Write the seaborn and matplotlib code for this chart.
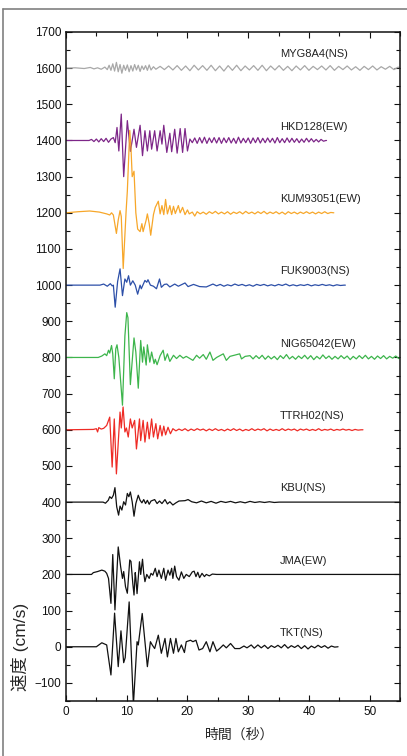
import numpy as np
import matplotlib
matplotlib.use("Agg")
import matplotlib.pyplot as plt
from matplotlib.lines import Line2D
from matplotlib.ticker import MultipleLocator
import seaborn as sns

# station names, baseline offsets (cm/s) and colours, top to bottom
names = ["MYG8A4(NS)", "HKD128(EW)", "KUM93051(EW)", "FUK9003(NS)", "NIG65042(EW)",
         "TTRH02(NS)", "KBU(NS)", "JMA(EW)", "TKT(NS)"]
offsets = [1600, 1400, 1200, 1000, 800, 600, 400, 200, 0]
colors = ["#a8a8a8", "#7d2688", "#f7a72a", "#2c4fa8", "#3db54c", "#ee2b25",
          "#111111", "#111111", "#111111"]

# velocity traces: main part as (time, value),
# coda as values at a fixed step after the last main point, then the trace end time
myg_t = [0, 1.5, 3, 4, 4.6, 5.2, 5.8, 6.4, 6.8, 7.1, 7.4, 7.7, 8.0, 8.3, 8.6, 8.9, 9.2, 9.5,
         9.8, 10.1, 10.4, 10.7, 11.0, 11.3, 11.6, 11.9, 12.2, 12.5, 12.8, 13.1, 13.4, 13.7,
         14.0, 14.4, 14.8]
myg_v = [0, 1, -1, 2, -2, 1, -3, 3, -4, 8, -6, 12, -8, 16, -10, 10, -14, 8, -6, 9, -10, 7,
         -8, 10, -5, 8, -9, 6, -4, 7, -6, 9, -5, 4, -3]
myg_tail = [5, -4, 6, -5, 7, -6, 6, -7, 8, -5, 7, -6, 8, -7, 6, -8, 7, -6, 8, -7, 6, -5, 7,
            -6, 8, -7, 6, -5, 7, -6, 5, -7, 6, -5, 7, -6, 5, -4, 6, -5, 7, -6, 5, -4, 6, -5,
            4, -6, 5, -4, 6, -5, 4, -3, 5, -4, 3]
myg_dt, myg_end = 0.7, 55

hkd_t = [0, 3.8, 4.2, 4.6, 5.0, 5.4, 5.8, 6.2, 6.6, 7.0, 7.4, 7.8, 8.1, 8.4, 8.7, 9.1, 9.5,
         10.1, 10.6, 10.9, 11.2, 11.6, 12.2, 12.6, 13.0, 13.4, 13.8, 14.1, 14.6, 15.0, 15.5,
         15.8, 16.1, 16.6, 17.1, 17.4, 17.9, 18.3, 18.8, 19.2, 19.6, 20.0, 20.4]
hkd_v = [0, 0, 3, -3, 4, -4, 5, -3, 6, -5, 4, 8, -6, 36, -29, 73, -100, 55, -30, 0, 31, -19,
         42, -42, 27, -29, 27, -24, 27, -29, 27, -10, 42, -33, 20, -31, 31, -35, 33, -33, 33,
         -29, 4]
hkd_tail = [-6, 7, -8, 8, -7, 9, -8, 7, -6, 8, -7, 8, -8, 7, -6, 8, -7, 6, -8, 9, -7, 6, -6,
            7, -8, 7, -6, 8, -7, 6, -6, 7, -5, 6, -7, 8, -6, 5, -6, 7, -5, 6, -5, 5, -6, 4,
            -5, 6, -4, 5, -4, 3, -4, 3, -2, 0]
hkd_dt, hkd_end = 0.4, 42.9

kum_t = [0, 2, 3.9, 5.5, 6.7, 7.2, 7.5, 7.8, 8.3, 8.6, 8.9, 9.1, 9.42, 9.9, 10.1, 10.5, 10.7,
         10.9, 11.2, 11.5, 11.8, 12.2, 12.5, 12.7, 13.2, 13.4, 13.7, 13.95, 14.4, 14.7, 15.2,
         15.5, 15.8, 16.1, 16.4, 16.7, 17.1, 17.4, 17.7, 18.0, 18.5, 18.8, 19.2, 19.6, 20.0,
         20.3, 20.8, 21.2, 21.6]
kum_v = [0, 3, 5, 2, -3, -6, 0, -6, -57, -20, 6, -10, -154, 5, 60, 228, 180, 100, 115, 0,
         -45, -52, -30, -52, -20, -3, -30, -62, -5, 15, 32, -3, 20, -5, 37, -3, 20, -5, 18,
         -2, 20, 0, 15, -5, 8, -3, 2, -9, 3]
kum_tail = [-3, 2, -4, 3, -2, 4, -3, 2, -3, 3, -4, 2, -2, 3, -3, 4, -2, 2, -3, 3, -2, 4, -3,
            2, -2, 3, -3, 2, -4, 3, -2, 2, -3, 2, -2, 3, -2, 2, -3, 2, -2, 3, -2, 1, 0]
kum_dt, kum_end = 0.5, 44.0

fuk_t = [0, 5.6, 6.2, 6.8, 7.3, 7.6, 7.8, 8.1, 8.5, 8.9, 9.3, 9.7, 10.0, 10.3, 10.6, 11.0,
         11.4, 11.8, 12.2, 12.4, 13.0, 13.3, 13.5, 13.9, 14.4, 14.9, 15.4, 15.7, 16.2, 16.6,
         17.1, 17.9, 18.5, 19.6, 20.1, 21.0, 22.0, 23.1, 24.2]
fuk_v = [0, 0, 3, -3, 4, -2, 0, -61, 10, 45, -29, 17, 8, 26, 0, 12, 0, -25, 0, -10, 13, 8,
         15, 0, -3, -10, 17, -6, 2, 3, -5, 3, -3, 6, -4, 2, -4, -5, 3]
fuk_tail = [-2, 2, -3, 1, -2, 3, -1, 2, -2, 1, -3, 2, -1, 2, -2, 1, -2, 2, -1, 3, -2, 1, -2,
            1, -1, 2, -2, 1, -1, 2, -1, 1, -2, 1, -1, 0]
fuk_dt, fuk_end = 0.6, 46.0

nig_t = [0, 5.3, 5.9, 6.4, 6.7, 7.0, 7.2, 7.5, 7.7, 7.95, 8.2, 8.4, 8.7, 9.3, 9.7, 10.0,
         10.2, 10.6, 11.2, 11.5, 11.9, 12.3, 12.6, 12.8, 13.2, 13.4, 13.8, 14.1, 14.5, 14.7,
         15.0, 15.5, 16.0, 16.3, 16.7, 17.1, 17.7, 18.2, 18.75, 19.3, 19.8, 20.9, 21.5, 22.0,
         22.6, 23.1, 23.7, 24.2, 24.8, 25.9, 26.4, 27.0, 28.6, 28.9, 29.5, 30.3]
nig_v = [0, 0, 4, 10, 5, 20, 12, 33, 10, -59, 24, 35, 0, -132, 60, 124, 110, -75, 54, 15,
         -85, 47, -13, 29, -21, 35, -13, 15, -17, -5, -20, 5, 20, -8, 10, -11, 6, -3, 6, -2,
         3, -8, 6, -2, 8, -5, 15, -8, 0, 10, -8, 3, 10, -4, 3, 5]
nig_tail = [-4, 5, -3, 6, -5, 4, -4, 3, -6, 5, -3, 8, -4, 3, -5, 4, -3, 6, -4, 5, -6, 3, -4,
            7, -3, 4, -5, 3, -4, 5, -3, 4, -6, 3, -4, 5, -3, 6, -4, 3, -5, 4, -3, 5, -4, 3,
            -2, 4, -3]
nig_dt, nig_end = 0.5, 55

ttrh_t = [0, 4.5, 5.0, 5.2, 5.4, 5.8, 6.2, 6.7, 7.2, 7.6, 7.95, 8.3, 8.9, 9.1, 9.4, 9.7,
          9.95, 10.25, 10.6, 10.9, 11.3, 11.6, 12.1, 12.3, 12.7, 13.0, 13.4, 13.7, 14.1,
          14.4, 14.8, 15.1, 15.5, 15.8, 16.1, 16.4, 16.8, 17.2, 17.6]
ttrh_v = [0, 1, 3, -6, 6, 2, 4, 12, 35, -103, 30, -122, 49, 5, 63, -6, 5, -20, 30, 5, 26,
          -53, 30, -30, 26, -34, 21, -25, 30, -20, 17, -25, 12, -17, 10, -14, 7, -11, 3]
ttrh_tail = [-3, 2, -2, 3, -3, 2, -2, 3, -1, 2, -3, 2, -2, 3, -2, 1, -3, 2, -2, 3, -2, 2, -3,
             1, -2, 3, -2, 2, -1, 3, -3, 2, -2, 1, -2, 3, -2, 2, -1, 2, -3, 2, -1, 2, -2, 1,
             -2, 3, -2, 1, -1, 2, -2, 1, -1, 2, -1, 1, -2, 1, -1, 0]
ttrh_dt, ttrh_end = 0.5, 48.9

kbu_t = [0, 6.1, 6.5, 6.96, 7.2, 7.5, 7.8, 8.06, 8.35, 8.66, 8.9, 9.2, 9.5, 9.8, 10.1,
         10.35, 10.6, 10.9, 11.2, 11.5, 11.9, 12.2, 12.5, 12.8, 13.1, 13.4, 13.7, 14.0, 14.6,
         15.0, 15.4, 15.8, 16.3, 16.7, 17.1, 17.6, 18.1, 18.6, 19.6, 20.1, 20.7]
kbu_v = [0, 0, -3, 5, 15, 10, 19, 40, -13, -36, -11, -22, 1, -8, 24, 15, 28, 1, -39, -4, 19,
         5, -2, 7, -4, 5, -6, 3, 7, -4, 3, -4, 7, -5, 1, -8, -2, 3, 4, 7, 1]
kbu_tail = [-2, 3, -2, 2, -3, 2, -1, 2, -2, 1, -2, 2, -1, 1, -1, 1, -1, 0]
kbu_dt, kbu_end = 0.8, 55

jma_t = [0, 4.2, 4.5, 5.2, 5.9, 6.4, 6.7, 7.0, 7.4, 7.7, 8.06, 8.6, 9.0, 9.3, 9.5, 9.8,
         10.1, 10.5, 10.7, 11.0, 11.2, 11.4, 11.5, 11.7, 12.1, 12.3, 12.6, 12.8, 13.0, 13.3,
         13.7, 14.0, 14.3, 14.7, 15.0, 15.3, 15.7, 16.1, 16.4, 16.8, 17.1, 17.4, 17.6, 17.9,
         18.2, 18.6, 19.0, 19.4, 19.8, 20.3, 20.8, 21.1, 21.4, 21.7, 22.0, 22.4, 22.8, 23.1,
         23.6, 24.1, 24.8]
jma_v = [0, 0, 5, 8, 12, 9, 3, -11, -80, 55, -98, 76, 21, -11, 8, -34, -52, 40, 36, -25, -57,
         5, -10, -53, 35, 0, 42, 3, -20, 0, -11, 3, -2, 17, -6, 12, -11, 17, -16, 12, -2, 17,
         -11, 23, -6, -16, 7, -11, 0, -6, 7, 9, -6, 6, -9, 3, -6, 0, -4, 1, 0]
jma_tail = []
jma_dt, jma_end = 0.5, 55

tkt_t = [0, 5.0, 5.9, 6.3, 6.7, 7.4, 8.0, 8.6, 9.05, 9.5, 9.75, 10.4, 11.1, 11.7, 11.9,
         12.55, 13.4, 13.9, 14.2, 14.6, 15.2, 15.7, 16.3, 16.7, 17.2, 17.7, 18.1, 18.5, 19.0,
         19.5, 19.8, 20.5, 20.9, 21.4, 21.9, 22.5, 23.1, 23.7, 24.2, 24.8, 25.3, 25.9, 26.4,
         27.1, 27.8, 28.6, 29.3, 29.8, 30.5, 31.0, 31.6]
tkt_v = [0, 0, 11, 8, 5, -78, 93, -55, 44, -44, -30, 124, -160, 14, 5, 92, -55, 14, 5, -5,
         32, -18, 23, -28, 23, -18, 23, -14, 5, -16, 14, 18, 14, 18, -9, -5, 14, -14, 14, -12,
         -5, 5, -3, 9, -5, -5, 2, -3, 5, -4, 5]
tkt_tail = [-3, 4, -5, 3, -2, 4, -3, 6, -4, 3, -2, 4, -5, 3, -6, 2, -3, 4, -2, 3, -4, 2, -1, 0]
tkt_dt, tkt_end = 0.55, 44.6

traces = [
    (myg_t, myg_v, myg_tail, myg_dt, myg_end),
    (hkd_t, hkd_v, hkd_tail, hkd_dt, hkd_end),
    (kum_t, kum_v, kum_tail, kum_dt, kum_end),
    (fuk_t, fuk_v, fuk_tail, fuk_dt, fuk_end),
    (nig_t, nig_v, nig_tail, nig_dt, nig_end),
    (ttrh_t, ttrh_v, ttrh_tail, ttrh_dt, ttrh_end),
    (kbu_t, kbu_v, kbu_tail, kbu_dt, kbu_end),
    (jma_t, jma_v, jma_tail, jma_dt, jma_end),
    (tkt_t, tkt_v, tkt_tail, tkt_dt, tkt_end),
]


def build(t, v, tail, dt, end):
    tt = list(t) + [t[-1] + dt * (i + 1) for i in range(len(tail))]
    vv = list(v) + list(tail)
    if end > tt[-1]:
        tt.append(end)
        vv.append(0)
    return np.array(tt), np.array(vv, dtype=float)


sns.set_style("ticks")
plt.rcParams["font.family"] = ["Liberation Sans", "Noto Sans CJK JP", "DejaVu Sans"]

fig = plt.figure(figsize=(4.07, 7.56), dpi=100)
ax = fig.add_axes([66 / 407, 55 / 756, 334 / 407, 669 / 756])

for name, off, col, (t, v, tail, dt, end) in zip(names, offsets, colors, traces):
    tt, vv = build(t, v, tail, dt, end)
    sns.lineplot(x=tt, y=vv + off, ax=ax, color=col, lw=0.9, sort=False, estimator=None)
    ax.text(35.2, off + 38, name, fontsize=8, va="center", ha="left", color="#222222")

ax.set_xlim(0, 55)
ax.set_ylim(-150, 1700)
ax.xaxis.set_major_locator(MultipleLocator(10))
ax.xaxis.set_minor_locator(MultipleLocator(5))
ax.yaxis.set_major_locator(MultipleLocator(100))
ax.yaxis.set_minor_locator(MultipleLocator(50))
ax.tick_params(which="both", direction="in", top=True, right=True, width=0.8,
               labelsize=8.5, colors="#111111")
ax.tick_params(which="major", length=4)
ax.tick_params(which="minor", length=3)
for s in ax.spines.values():
    s.set_linewidth(1.1)
    s.set_color("#111111")

ax.set_xlabel("時間（秒）", fontsize=10)
ax.set_ylabel("速度 (cm/s)", fontsize=12.5)
ax.xaxis.set_label_coords(0.52, -0.040)
ax.yaxis.set_label_coords(-0.11, 0.081)

# thin grey frame of the original figure
fig.add_artist(Line2D([2.5 / 407, 2.5 / 407], [0, 1 - 9 / 756], color="#808080", lw=1.2))
fig.add_artist(Line2D([2.5 / 407, 1], [1 - 9 / 756, 1 - 9 / 756], color="#808080", lw=1.2))

fig.savefig("out.png", dpi=100)
